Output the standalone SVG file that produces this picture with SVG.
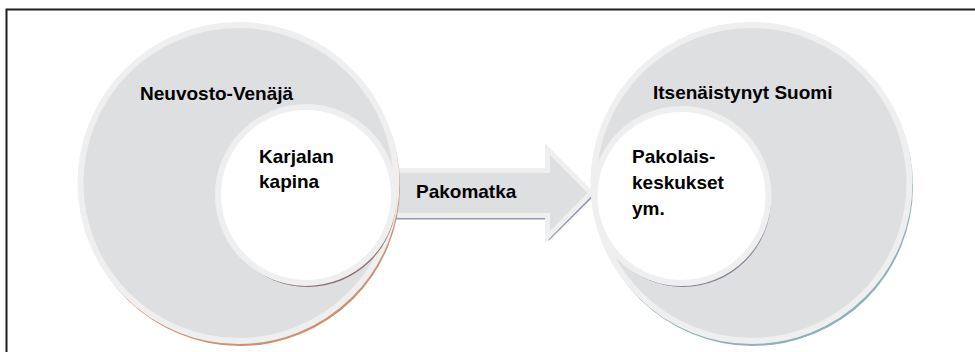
<svg xmlns="http://www.w3.org/2000/svg" width="975" height="352" viewBox="0 0 975 352">
<style>
.ring{fill:#dedfe1;stroke:#efefef;stroke-width:6}
.inner{fill:#ffffff;stroke:#efefef;stroke-width:6}
.lbl{font-family:"Liberation Sans",Arial,sans-serif;font-weight:bold;font-size:19px;fill:#000}
.frame{fill:none;stroke:#1e1e1e;stroke-width:2}
</style>
<rect width="975" height="352" fill="#ffffff"/>
<path class="frame" d="M6.5,353 V9.5 H976"/>
<g id="connectors">
<polygon points="393,174.5 548.5,174.5 548.5,153 593,197 548.5,241 548.5,219.5 393,219.5" fill="#8d9cae"/>
<polygon points="392,170.5 547.5,170.5 547.5,149 591,193 547.5,237 547.5,215.5 392,215.5" fill="#dedfe1" stroke="#efefef" stroke-width="5"/>
<text class="lbl" x="416" y="198">Pakomatka</text>
</g>
<g id="neuvosto-venaja">
<circle cx="240" cy="186" r="160" fill="#c99272"/>
<circle class="ring" cx="238.5" cy="183" r="158"/>
<text class="lbl" x="140" y="100">Neuvosto-Venäjä</text>
</g>
<g id="karjalan-kapina">
<circle cx="307.5" cy="198" r="89" fill="#8e6e70"/>
<circle class="inner" cx="306" cy="195" r="88"/>
<text class="lbl" x="259" y="163">Karjalan</text>
<text class="lbl" x="259" y="188">kapina</text>
</g>
<g id="itsenaistynyt-suomi">
<circle cx="753" cy="186" r="160" fill="#8fb0b8"/>
<circle class="ring" cx="751.5" cy="183" r="158"/>
<text class="lbl" x="653" y="99">Itsenäistynyt Suomi</text>
</g>
<g id="pakolaiskeskukset">
<circle cx="683" cy="199" r="88" fill="#8a8095"/>
<circle class="inner" cx="681.5" cy="196" r="87"/>
<text class="lbl" x="632" y="163">Pakolais-</text>
<text class="lbl" x="632" y="189">keskukset</text>
<text class="lbl" x="632" y="215">ym.</text>
</g>
</svg>
